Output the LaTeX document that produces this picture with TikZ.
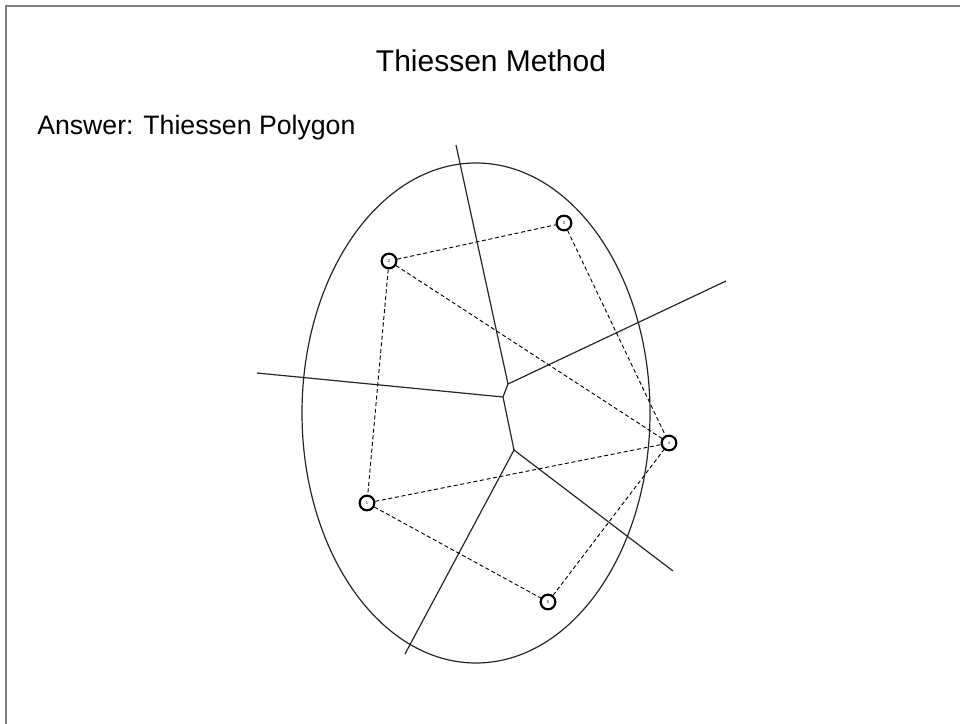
\documentclass[tikz,border=0pt]{standalone}
\usepackage{fontspec}
\setmainfont{Liberation Sans}
\begin{document}
\begin{tikzpicture}[x=0.75pt, y=-0.75pt,
  station/.style={circle, draw, line width=1.6pt, minimum size=11pt, inner sep=0pt, font=\fontsize{3}{3}\selectfont},
  link/.style={dash pattern=on 3pt off 2pt, line width=0.7pt},
  ridge/.style={line width=0.9pt, draw=black!85}]
\useasboundingbox (0,0) rectangle (960,724);
\draw[gray, line width=1.5pt] (6,724) -- (6,6) -- (960,6);
\node (title) at (491,61) {\fontsize{22.5}{27}\selectfont Thiessen Method};
\node[anchor=west, inner sep=0pt] (answer) at (37,128) {\fontsize{20}{24}\selectfont Answer: Thiessen Polygon};
\coordinate (Va) at (508,384);
\coordinate (Vb) at (503,397);
\coordinate (Vc) at (514,450);
\coordinate (Top) at (456,145);
\coordinate (Right) at (726,281);
\coordinate (Left) at (257,373);
\coordinate (Low) at (405,654);
\coordinate (LowR) at (673,571);
\draw[ridge] (476,413) ellipse [x radius=130.5pt, y radius=187.5pt];
\draw[ridge] (Top)--(Va)--(Right) (Va)--(Vb)--(Vc);
\draw[ridge] (Left)--(Vb) (Low)--(Vc)--(LowR);
\node[station] (s1) at (367,503) {1};
\node[station] (s2) at (389,261) {2};
\node[station] (s3) at (564,223) {3};
\node[station] (s4) at (669,443) {4};
\node[station] (s5) at (548,602) {5};
\draw[link] (s2)--(s3) (s2)--(s4) (s2)--(s1) (s3)--(s4);
\draw[link] (s1)--(s4) (s1)--(s5) (s5)--(s4);
\end{tikzpicture}
\end{document}
